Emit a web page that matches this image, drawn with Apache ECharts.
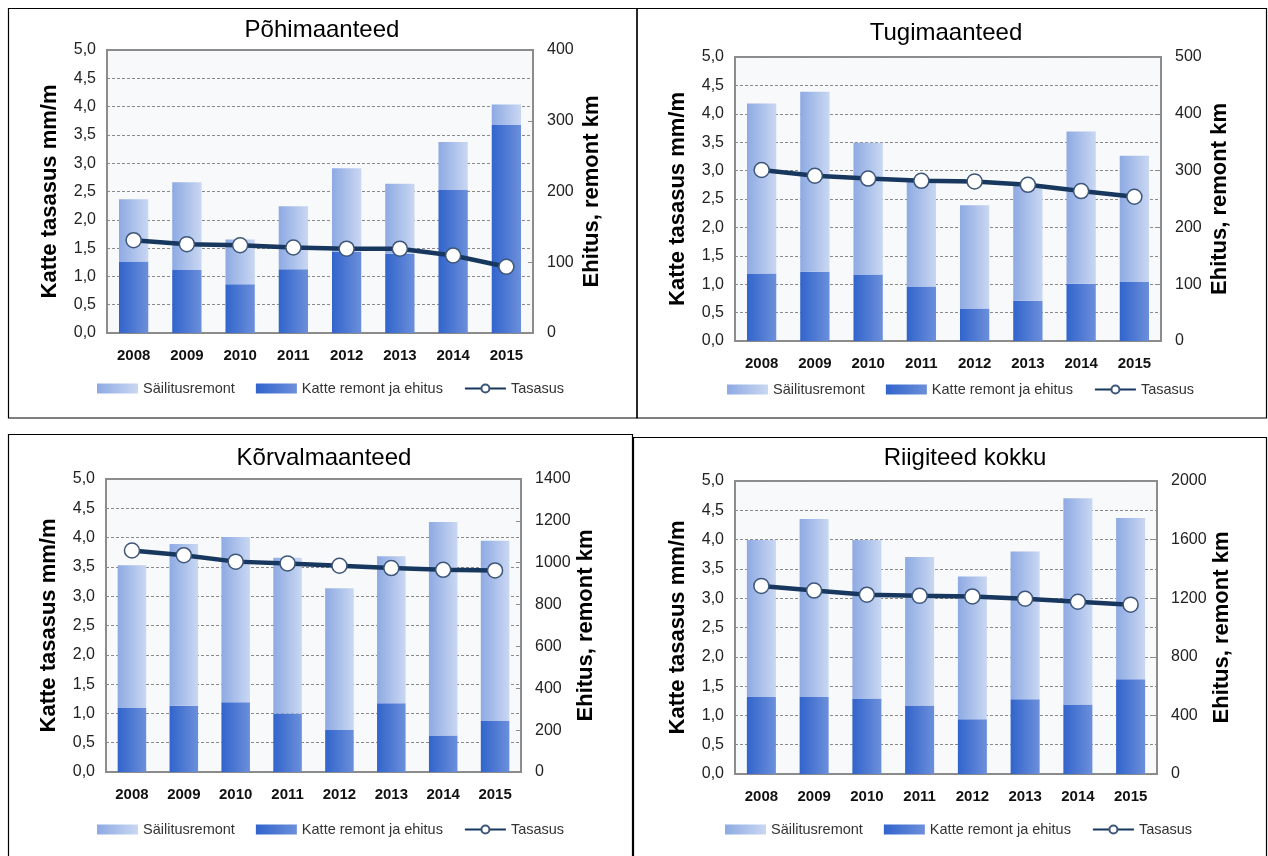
<!DOCTYPE html>
<html>
<head>
<meta charset="utf-8">
<script src="https://cdn.jsdelivr.net/npm/echarts@6/dist/echarts.min.js"></script>
<style>
  html, body { margin: 0; padding: 0; background: #ffffff; }
  #chart { width: 1268px; height: 856px; }
</style>
</head>
<body>
<div id="chart"></div>
<script>
// Years on the category axis
const years = ['2008', '2009', '2010', '2011', '2012', '2013', '2014', '2015'];

// Series names (legend order)
const nameMaintenance = 'Säilitusremont';
const nameRepair = 'Katte remont ja ehitus';
const nameEvenness = 'Tasasus';

const panelTitles = ['Põhimaanteed', 'Tugimaanteed', 'Kõrvalmaanteed', 'Riigiteed kokku'];
const leftAxisName = 'Katte tasasus mm/m';
const rightAxisName = 'Ehitus, remont km';

// Põhimaanteed: km of works (right axis) and evenness mm/m (left axis)
const pohiRepair = [101, 89, 69, 90, 115, 112, 202, 294];
const pohiMaintenance = [88, 124, 63, 89, 118, 99, 68, 29];
const pohiEvenness = [1.64, 1.57, 1.55, 1.51, 1.49, 1.49, 1.37, 1.17];

// Tugimaanteed
const tugiRepair = [119, 122, 117, 96, 57, 71, 101, 104];
const tugiMaintenance = [299, 317, 232, 184, 182, 202, 268, 222];
const tugiEvenness = [3.01, 2.91, 2.86, 2.82, 2.81, 2.75, 2.64, 2.54];

// Kõrvalmaanteed
const korvalRepair = [306, 317, 333, 280, 201, 328, 175, 244];
const korvalMaintenance = [682, 772, 790, 744, 677, 703, 1020, 861];
const korvalEvenness = [3.78, 3.70, 3.59, 3.56, 3.52, 3.48, 3.45, 3.44];

// Riigiteed kokku
const kokkuRepair = [525, 525, 516, 468, 373, 511, 475, 646];
const kokkuMaintenance = [1073, 1216, 1082, 1014, 975, 1007, 1407, 1102];
const kokkuEvenness = [3.21, 3.13, 3.06, 3.04, 3.03, 2.99, 2.94, 2.89];

// Right axis ranges per panel
const rightAxisMax = [400, 500, 1400, 2000];
const rightAxisStep = [100, 100, 200, 400];

const panelData = [
  { repair: pohiRepair, maintenance: pohiMaintenance, evenness: pohiEvenness },
  { repair: tugiRepair, maintenance: tugiMaintenance, evenness: tugiEvenness },
  { repair: korvalRepair, maintenance: korvalMaintenance, evenness: korvalEvenness },
  { repair: kokkuRepair, maintenance: kokkuMaintenance, evenness: kokkuEvenness }
];

// Page layout of the four panels
const layout = [
  { grid: { left: 107, top: 50, width: 426, height: 283 }, title: [322, 30], legend: [97, 381], box: [8.5, 8.5, 628.5, 409.5] },
  { grid: { left: 735, top: 57, width: 426, height: 284 }, title: [946, 33], legend: [727, 382], box: [637, 8.5, 629.5, 409.5] },
  { grid: { left: 106, top: 479, width: 415, height: 293 }, title: [324, 458], legend: [97, 822], box: [8.5, 434.5, 624, 430] },
  { grid: { left: 735, top: 481, width: 422, height: 293 }, title: [965, 458], legend: [725, 822], box: [633.5, 437.5, 633, 430] }
];

const FONT = "'Liberation Sans', Arial, sans-serif";
const navy = '#17375e';

const darkFill = new echarts.graphic.LinearGradient(0, 0, 1, 0, [
  { offset: 0, color: '#3164cc' },
  { offset: 1, color: '#6c8fda' }
]);
const lightFill = new echarts.graphic.LinearGradient(0, 0, 1, 0, [
  { offset: 0, color: '#8eaae3' },
  { offset: 1, color: '#c9d7f2' }
]);

const commaFmt = v => v.toFixed(1).replace('.', ',');
const plainFmt = v => String(v);

const option = {
  animation: false,
  backgroundColor: '#ffffff',
  textStyle: { fontFamily: FONT },
  grid: [], xAxis: [], yAxis: [], series: [], legend: [], graphic: []
};

layout.forEach((p, i) => {
  option.grid.push(Object.assign({
    show: true,
    backgroundColor: '#f8f9fb',
    borderColor: '#8c8c8c',
    borderWidth: 2
  }, p.grid));

  option.xAxis.push({
    type: 'category',
    gridIndex: i,
    data: years,
    axisLine: { show: false },
    axisTick: { show: false },
    axisLabel: { margin: 15, fontSize: 15, fontWeight: 'bold', color: '#111', fontFamily: FONT }
  });

  option.yAxis.push({
    type: 'value',
    gridIndex: i,
    position: 'left',
    min: 0, max: 5, interval: 0.5,
    name: leftAxisName,
    nameLocation: 'middle',
    nameRotate: 90,
    nameGap: 46,
    nameTextStyle: { fontSize: 22, fontWeight: 'bold', color: '#000', fontFamily: FONT },
    axisLine: { show: false },
    axisTick: { show: false },
    axisLabel: { margin: 11, fontSize: 16, color: '#222', fontFamily: FONT, formatter: commaFmt },
    splitLine: { show: true, lineStyle: { color: '#8a8a8a', type: [3, 2], width: 1 } }
  });

  option.yAxis.push({
    type: 'value',
    gridIndex: i,
    position: 'right',
    min: 0, max: rightAxisMax[i], interval: rightAxisStep[i],
    name: rightAxisName,
    nameLocation: 'middle',
    nameRotate: 90,
    nameGap: 48,
    nameTextStyle: { fontSize: 22, fontWeight: 'bold', color: '#000', fontFamily: FONT },
    axisLine: { show: false },
    axisTick: { show: true, inside: true, length: 5, lineStyle: { color: '#8c8c8c', width: 1 } },
    axisLabel: { margin: 14, fontSize: 16, color: '#222', fontFamily: FONT, formatter: plainFmt },
    splitLine: { show: false }
  });

  const d = panelData[i];
  option.series.push({
    name: nameRepair,
    type: 'bar',
    stack: 'works' + i,
    xAxisIndex: i,
    yAxisIndex: i * 2 + 1,
    barWidth: '55%',
    itemStyle: { color: darkFill },
    data: d.repair,
    z: 2
  });
  option.series.push({
    name: nameMaintenance,
    type: 'bar',
    stack: 'works' + i,
    xAxisIndex: i,
    yAxisIndex: i * 2 + 1,
    barWidth: '55%',
    itemStyle: { color: lightFill },
    data: d.maintenance,
    z: 2
  });
  option.series.push({
    name: nameEvenness,
    type: 'line',
    xAxisIndex: i,
    yAxisIndex: i * 2,
    data: d.evenness,
    symbol: 'circle',
    symbolSize: 15,
    lineStyle: { color: navy, width: 4.5 },
    itemStyle: { color: '#ffffff', borderColor: '#3d5679', borderWidth: 1.5 },
    z: 5
  });

  option.legend.push({
    left: p.legend[0],
    top: p.legend[1],
    padding: 0,
    itemWidth: 41,
    itemHeight: 10,
    itemGap: 21,
    textStyle: { fontSize: 14.5, color: '#333', fontFamily: FONT },
    data: [
      { name: nameMaintenance, icon: 'rect' },
      { name: nameRepair, icon: 'rect' },
      { name: nameEvenness }
    ],
    selectedMode: false
  });

  option.graphic.push({
    type: 'rect',
    shape: { x: p.box[0], y: p.box[1], width: p.box[2], height: p.box[3] },
    style: { fill: 'none', stroke: '#000', lineWidth: 1.2 },
    silent: true,
    z: -10
  });
  option.graphic.push({
    type: 'text',
    x: p.title[0],
    y: p.title[1],
    style: {
      text: panelTitles[i],
      fontSize: 24,
      fontFamily: FONT,
      fill: '#000',
      align: 'center', verticalAlign: 'middle',
      textAlign: 'center', textVerticalAlign: 'middle'
    },
    silent: true
  });
});

const chart = echarts.init(document.getElementById('chart'), null, { renderer: 'canvas' });
chart.setOption(option);
</script>
</body>
</html>
